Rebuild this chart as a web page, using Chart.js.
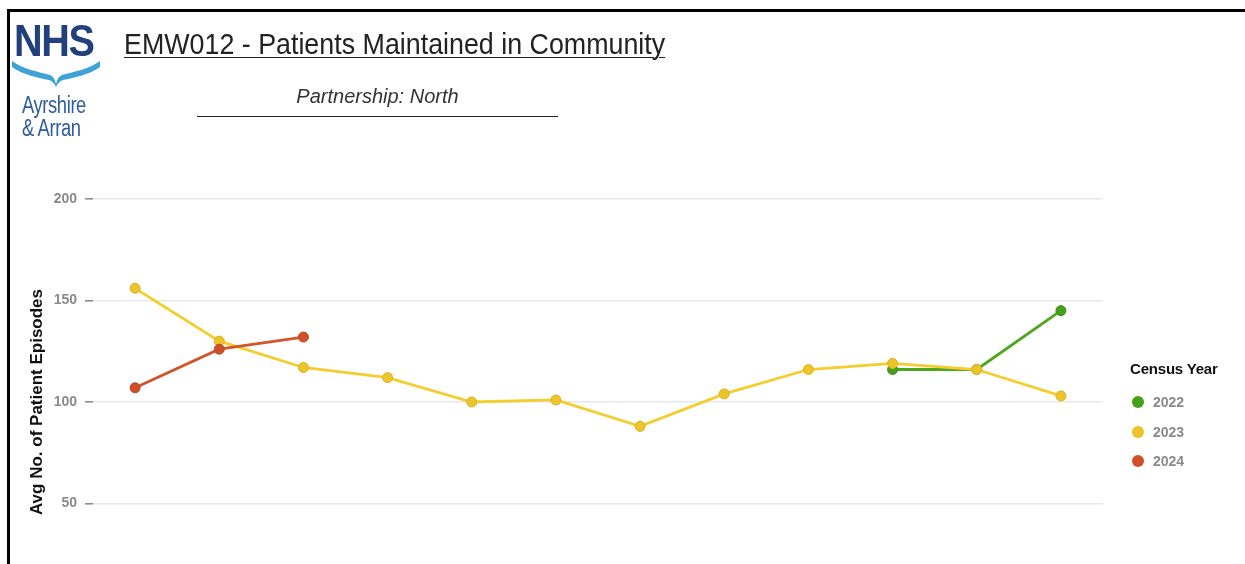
<!DOCTYPE html>
<html>
<head>
<meta charset="utf-8">
<script src="https://cdn.jsdelivr.net/npm/chart.js@4.4.1/dist/chart.umd.min.js"></script>
<style>
  html, body { margin: 0; padding: 0; overflow: hidden; background: #fff; }
  #wrap { position: relative; width: 1245px; height: 564px; overflow: hidden; background: #fff; font-family: "Liberation Sans", Arial, sans-serif; }
  #frame { position: absolute; left: 7px; top: 9px; width: 1260px; height: 600px; border-top: 3px solid #000; border-left: 3px solid #000; }
  #chartCanvas { position: absolute; left: 0; top: 0; }
  .nhs { position: absolute; left: 14px; top: 16px; font: bold 44px "Liberation Sans", Arial, sans-serif; color: #22407c; transform: scaleX(0.9); transform-origin: left top; letter-spacing: -1.5px; }
  .logo2 { position: absolute; left: 22px; font: 23px "Liberation Sans", Arial, sans-serif; color: #2f5b9f; transform: scaleX(0.8); transform-origin: left top; letter-spacing: -0.5px; }
  #wave { position: absolute; left: 11px; top: 57px; }
  #title { position: absolute; left: 124px; top: 28px; font: 29px "Liberation Sans", Arial, sans-serif; color: #222; text-decoration: underline; text-decoration-thickness: 1px; text-underline-offset: 3px; transform: scaleX(0.925); transform-origin: left top; white-space: nowrap; }
  #sub { position: absolute; left: 197px; width: 361px; top: 85px; text-align: center; font: italic 20px "Liberation Sans", Arial, sans-serif; color: #333; }
  #subline { position: absolute; left: 197px; top: 116px; width: 361px; height: 0; border-top: 1.5px solid #222; }
  #legend { position: absolute; left: 1130px; top: 360px; font-family: "Liberation Sans", Arial, sans-serif; }
  #legend .lt { font: bold 15px "Liberation Sans", Arial, sans-serif; color: #111; margin-bottom: 16px; white-space: nowrap; letter-spacing: -0.2px; }
  #legend .it { position: relative; height: 29.5px; font: bold 14px "Liberation Sans", Arial, sans-serif; color: #8a8a8a; }
  #legend .dot { position: absolute; left: 2px; top: 3px; width: 12px; height: 12px; border-radius: 50%; }
  #legend .lb { position: absolute; left: 23px; top: 1px; }
</style>
</head>
<body>
<div id="wrap">
  <canvas id="chartCanvas" width="1245" height="660"></canvas>
  <div id="frame"></div>
  <div class="nhs">NHS</div>
  <svg id="wave" width="90" height="30" viewBox="0 0 90 30">
    <path d="M1 4 C 12 12, 28 15, 39 18 C 42 19, 44 22, 45 27 C 46 22, 48 19, 51 18 C 62 15, 78 12, 89 4 L 89 10 C 78 18, 62 21, 52 23 C 49 24, 47 26, 45 30 C 43 26, 41 24, 38 23 C 28 21, 12 18, 1 10 Z" fill="#3fa3d6"/>
  </svg>
  <div class="logo2" style="top:92px;">Ayrshire</div>
  <div class="logo2" style="top:115px;">&amp; Arran</div>
  <div id="title">EMW012 - Patients Maintained in Community</div>
  <div id="sub">Partnership: North</div>
  <div id="subline"></div>
  <div id="legend"></div>
</div>
<script>
const months = ["Jan", "Feb", "Mar", "Apr", "May", "Jun", "Jul", "Aug", "Sep", "Oct", "Nov", "Dec"];
const yTicks = [0, 50, 100, 150, 200];
const seriesNames = ["2022", "2023", "2024"];
const values2022 = [null, null, null, null, null, null, null, null, null, 116, 116, 145];
const values2023 = [156, 130, 117, 112, 100, 101, 88, 104, 116, 119, 116, 103];
const values2024 = [107, 126, 132, null, null, null, null, null, null, null, null, null];

const lineColors = ["#4ea71d", "#f4cd2e", "#d2542b"];
const pointColors = ["#47a01a", "#ecc52a", "#cf4f27"];
const pointBorders = ["#3c8f14", "#d9b321", "#bf4522"];
const drawOrder = [2, 1, 0];
const seriesValues = [values2022, values2023, values2024];

const datasets = seriesNames.map((name, i) => ({
  label: name,
  data: seriesValues[i],
  borderColor: lineColors[i],
  backgroundColor: pointColors[i],
  pointBackgroundColor: pointColors[i],
  pointBorderColor: pointBorders[i],
  pointBorderWidth: 1,
  pointRadius: 5,
  borderWidth: 2.8,
  tension: 0,
  spanGaps: false,
  order: drawOrder[i]
}));

new Chart(document.getElementById("chartCanvas"), {
  type: "line",
  data: { labels: months, datasets: datasets },
  options: {
    responsive: false,
    animation: false,
    devicePixelRatio: 1,
    layout: { padding: { top: 199, right: 142, left: 0, bottom: 0 } },
    plugins: { legend: { display: false }, tooltip: { enabled: false }, title: { display: false } },
    scales: {
      x: {
        type: "category",
        offset: true,
        grid: { display: false, drawTicks: false },
        border: { display: false },
        ticks: { color: "#888", font: { family: "Liberation Sans", size: 13, weight: "bold" } },
        afterFit: (scale) => { scale.height = 55; }
      },
      y: {
        min: yTicks[0],
        max: yTicks[yTicks.length - 1],
        afterBuildTicks: (scale) => { scale.ticks = yTicks.map(v => ({ value: v })); },
        grid: { color: "#e8e8e8", lineWidth: 1.6, tickLength: 8, tickColor: "#8c8c8c", tickWidth: 1.6 },
        border: { display: false },
        ticks: { padding: 8, color: "#8a8a8a", font: { family: "Liberation Sans", size: 14, weight: "bold" } },
        title: {
          display: true,
          text: "Avg No. of Patient Episodes",
          color: "#111",
          font: { family: "Liberation Sans", size: 17, weight: "bold" },
          padding: { top: 27, bottom: 0 }
        },
        afterFit: (scale) => { scale.width = 93; }
      }
    }
  }
});

const legend = document.getElementById("legend");
let html = '<div class="lt">Census Year</div>';
seriesNames.forEach((name, i) => {
  html += '<div class="it"><span class="dot" style="background:' + pointColors[i] + '"></span><span class="lb">' + name + '</span></div>';
});
legend.innerHTML = html;
</script>
</body>
</html>
